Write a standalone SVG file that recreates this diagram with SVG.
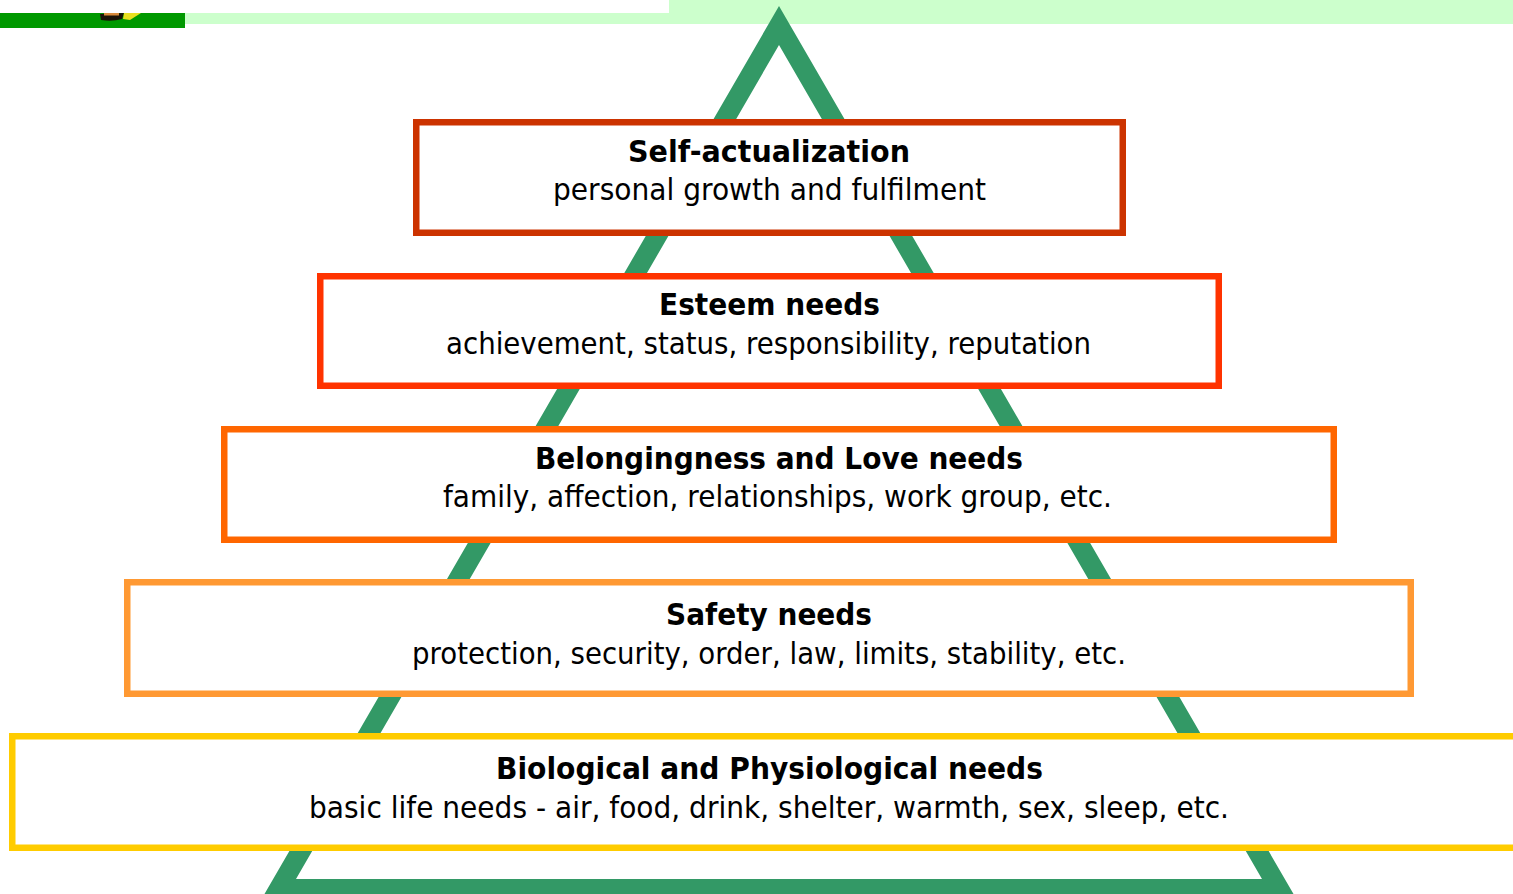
<svg xmlns="http://www.w3.org/2000/svg" width="1513" height="894" viewBox="0 0 1513 894">
<style>
.box{fill:#ffffff;stroke-width:6.5}
.t{font-family:"DejaVu Sans","Liberation Sans",sans-serif;font-weight:bold;font-size:30.5px;fill:#000}
.s{font-family:"DejaVu Sans","Liberation Sans",sans-serif;font-size:30px;fill:#000}
</style>
<rect width="1513" height="894" fill="#ffffff"/>
<g id="header">
<rect x="185" y="13" width="484" height="11" fill="#ccffcc"/>
<rect x="669" y="0" width="844" height="24" fill="#ccffcc"/>
<rect x="0" y="13" width="185" height="15" fill="#009900"/>
<path d="M100 14 L124 13 L122 19 Q112 22 101 20 Z" fill="#1a1206"/>
<rect x="104" y="13" width="15" height="2.5" fill="#d88a3a"/>
<path d="M124 13 L141 13 L130 20 L123 19 Z" fill="#e8e020"/>
</g>
<g id="pyramid">
<path d="M779 6 L1297 900 L261 900 Z M779 45 L296 879 L1262 879 Z" fill="#339966" fill-rule="evenodd"/>
</g>
<g id="self-actualization">
<rect class="box" x="416.25" y="122.25" width="706.5" height="110.5" stroke="#cc3300"/>
<text class="t" x="628" y="162" textLength="282" lengthAdjust="spacingAndGlyphs">Self-actualization</text>
<text class="s" x="553" y="200" textLength="433" lengthAdjust="spacingAndGlyphs">personal growth and fulfilment</text>
</g>
<g id="esteem">
<rect class="box" x="320.25" y="276.25" width="898.5" height="109.5" stroke="#ff3300"/>
<text class="t" x="659" y="315" textLength="221" lengthAdjust="spacingAndGlyphs">Esteem needs</text>
<text class="s" x="446" y="354" textLength="645" lengthAdjust="spacingAndGlyphs">achievement, status, responsibility, reputation</text>
</g>
<g id="belongingness">
<rect class="box" x="224.25" y="429.25" width="1109.5" height="110.5" stroke="#ff6600"/>
<text class="t" x="535" y="469" textLength="488" lengthAdjust="spacingAndGlyphs">Belongingness and Love needs</text>
<text class="s" x="443" y="507" textLength="669" lengthAdjust="spacingAndGlyphs">family, affection, relationships, work group, etc.</text>
</g>
<g id="safety">
<rect class="box" x="127.25" y="582.25" width="1283.5" height="111.5" stroke="#ff9933"/>
<text class="t" x="666" y="625" textLength="206" lengthAdjust="spacingAndGlyphs">Safety needs</text>
<text class="s" x="412" y="664" textLength="714" lengthAdjust="spacingAndGlyphs">protection, security, order, law, limits, stability, etc.</text>
</g>
<g id="biological">
<rect class="box" x="12.25" y="736.25" width="1600" height="111.5" stroke="#ffcc00"/>
<text class="t" x="496" y="779" textLength="547" lengthAdjust="spacingAndGlyphs">Biological and Physiological needs</text>
<text class="s" x="309" y="818" textLength="920" lengthAdjust="spacingAndGlyphs">basic life needs - air, food, drink, shelter, warmth, sex, sleep, etc.</text>
</g>
</svg>
